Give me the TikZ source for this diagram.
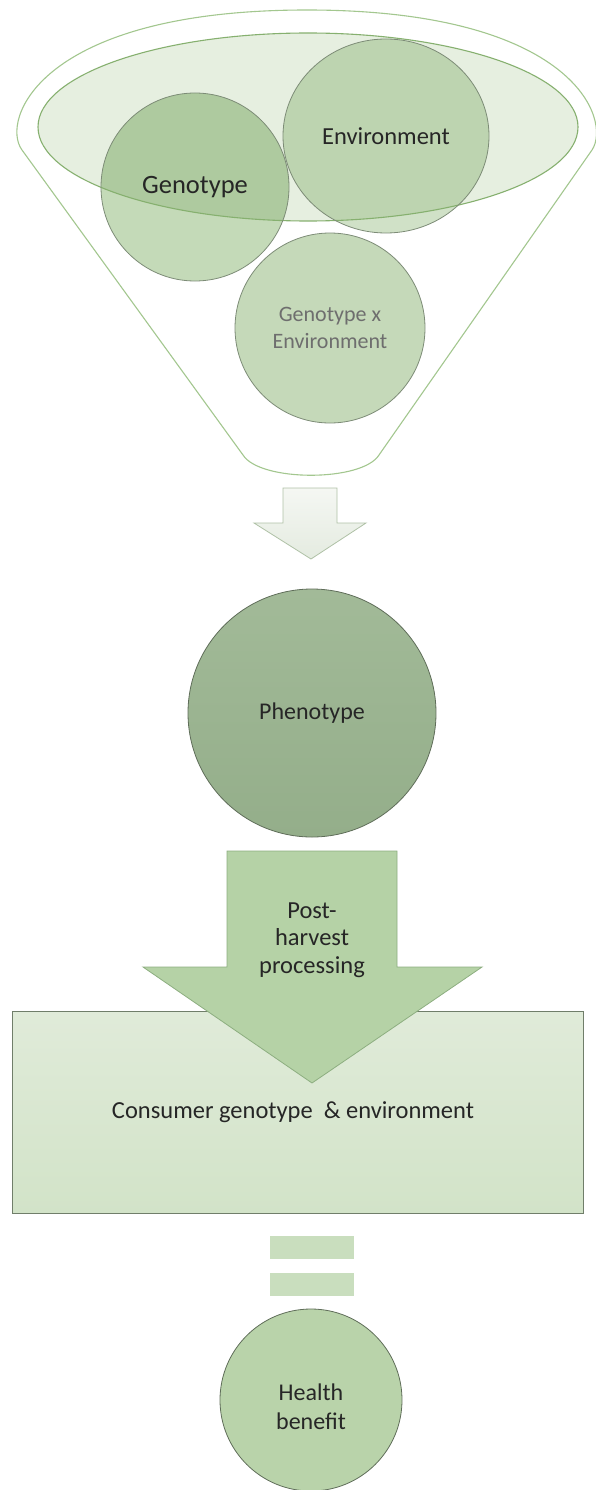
\documentclass[tikz,border=0pt]{standalone}
\usepackage{fontspec}
\setmainfont{Carlito}
\usetikzlibrary{shapes.geometric}
\definecolor{funnelline}{HTML}{A3C78F}
\definecolor{ellfill}{HTML}{E6EFE0}
\definecolor{ellline}{HTML}{86B06F}
\definecolor{genoout}{HTML}{C4DAB8}
\definecolor{genoin}{HTML}{AECA9F}
\definecolor{envout}{HTML}{D0E1C7}
\definecolor{envin}{HTML}{BDD4B0}
\definecolor{gxefill}{HTML}{C5D9B9}
\definecolor{circline}{HTML}{7D8C77}
\definecolor{darkline}{HTML}{5F6D59}
\definecolor{phenotop}{HTML}{A2BA98}
\definecolor{phenobot}{HTML}{94AE8A}
\definecolor{arrowfill}{HTML}{B5D2A6}
\definecolor{arrowline}{HTML}{8DAE80}
\definecolor{boxtop}{HTML}{E0EBD9}
\definecolor{boxbot}{HTML}{D2E3C8}
\definecolor{boxline}{HTML}{707E6A}
\definecolor{eqfill}{HTML}{C9DEBE}
\definecolor{healthfill}{HTML}{B9D3AA}
\definecolor{hollowtop}{HTML}{F5F7F3}
\definecolor{hollowbot}{HTML}{E4EBE0}
\definecolor{hollowline}{HTML}{AFC1A6}
\definecolor{txt}{HTML}{262626}
\definecolor{graytxt}{HTML}{6E6E6E}
\begin{document}
\begin{tikzpicture}[x=1pt,y=-1pt,
  lbl/.style={inner sep=0pt, text=txt, align=center},
  thinline/.style={line width=0.8pt},
  bigcirc/.style={circle, inner sep=0pt, thinline}]
\useasboundingbox (0,0) rectangle (595,1490);
% funnel
\draw[funnelline, line width=1.1pt, fill=white]
  (243,455) -- (22,150) .. controls (0,120) and (40,10) .. (307,10)
  .. controls (574,10) and (612,120) .. (592,150) -- (379,455)
  .. controls (362,482) and (260,482) .. (243,455) -- cycle;
% inner ellipse fill
\fill[ellfill] (308,127) ellipse [x radius=270, y radius=94];
% genotype and environment circles
\node[bigcirc, minimum size=188pt, fill=genoout] (geno) at (195,187) {};
\node[ellipse, inner sep=0pt, minimum width=206pt, minimum height=194pt, fill=envout] (env) at (386,136) {};
\begin{scope}
  \clip (308,127) ellipse [x radius=270, y radius=94];
  \fill[genoin] (195,187) circle [radius=94];
  \fill[envin] (386,136) ellipse [x radius=103, y radius=97];
\end{scope}
\draw[ellline, line width=1.1pt] (308,127) ellipse [x radius=270, y radius=94];
\draw[circline, thinline] (195,187) circle [radius=94];
\draw[circline, thinline] (386,136) ellipse [x radius=103, y radius=97];
\node[lbl, font=\fontsize{26.5}{30}\selectfont] (genotxt) at (geno.center) {Genotype};
\node[lbl, font=\fontsize{24.5}{28}\selectfont] (envtxt) at (env.center) {Environment};
% GxE
\node[bigcirc, minimum size=190pt, fill=gxefill, draw=circline, text=graytxt, align=center,
  font=\fontsize{22}{27}\selectfont] (gxe) at (330,328) {Genotype x\\Environment};
% hollow arrow
\draw[hollowline, thinline, top color=hollowtop, bottom color=hollowbot]
  (283,488) -- (337,488) -- (337,523) -- (366,523) -- (311,559) -- (254,523) -- (283,523) -- cycle;
% phenotype
\node[bigcirc, minimum size=248pt, top color=phenotop, bottom color=phenobot, draw=darkline,
  text=txt, font=\fontsize{24}{28}\selectfont] (pheno) at (312,713) {Phenotype};
% consumer box
\node[rectangle, inner sep=0pt, minimum width=571pt, minimum height=202pt, top color=boxtop,
  bottom color=boxbot, draw=boxline, thinline] (box) at (297.5,1112) {};
% post-harvest arrow
\draw[arrowline, thinline, fill=arrowfill]
  (227,851) -- (397,851) -- (397,967) -- (482,967) -- (312,1083) -- (143,967) -- (227,967) -- cycle;
\node[lbl, font=\fontsize{24.5}{27.5}\selectfont] (posttxt) at (312,940) {Post-\\harvest\\processing};
\node[lbl, font=\fontsize{24.5}{28}\selectfont] (boxtxt) at (293,1112) {Consumer genotype \ \& environment};
% equals
\node[rectangle, inner sep=0pt, minimum width=84pt, minimum height=23pt, fill=eqfill] (eq1) at (312,1247.5) {};
\node[rectangle, inner sep=0pt, minimum width=84pt, minimum height=23pt, fill=eqfill] (eq2) at (312,1284.5) {};
% health
\node[bigcirc, minimum size=182pt, fill=healthfill, draw=darkline] (health) at (311,1400) {};
\node[lbl, font=\fontsize{24}{29}\selectfont] (healthtxt) at (311,1407) {Health\\benefit};
\end{tikzpicture}
\end{document}
